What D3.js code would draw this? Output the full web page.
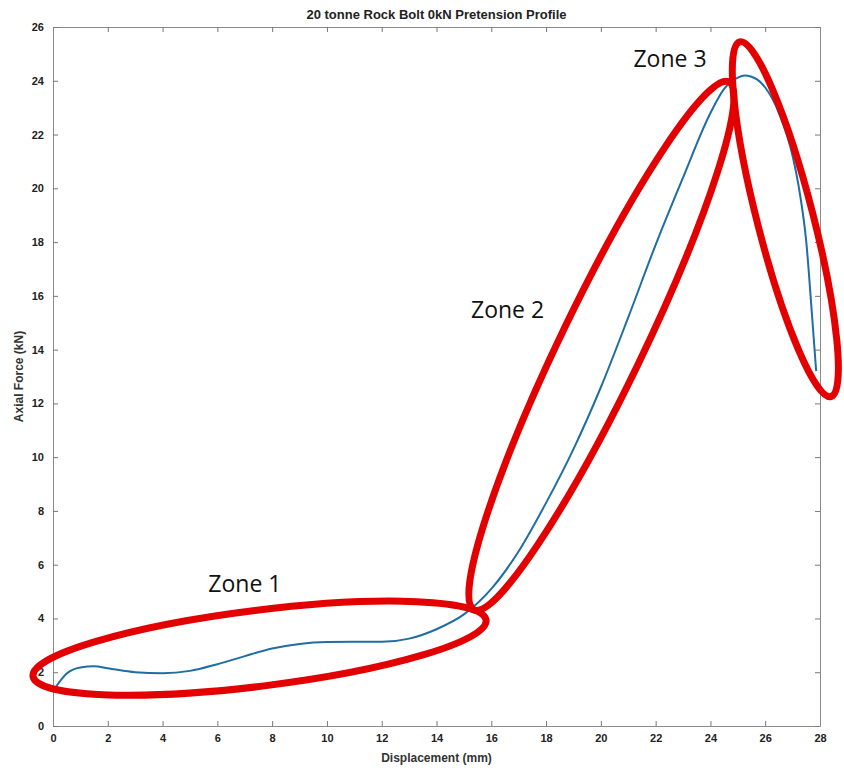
<!DOCTYPE html>
<html>
<head>
<meta charset="utf-8">
<script src="https://cdn.jsdelivr.net/npm/d3@7"></script>
<style>
  body { margin: 0; background: #fff; }
  svg { display: block; }
  .tick text { font-family: "Liberation Sans", Arial, sans-serif; font-size: 11px; font-weight: bold; fill: #222; }
</style>
</head>
<body>
<div id="chart"></div>
<script>
// displacement (mm) and axial force (kN)
var displacement = [0.07, 0.5, 1, 1.5, 2, 3, 4, 5, 6, 7, 8, 9, 10, 11, 12, 13, 14, 15, 16, 17, 18, 19, 20, 21, 22, 23, 24, 24.5, 25, 25.25, 25.7, 26, 26.5, 27, 27.25, 27.5, 27.7, 27.86];
var axialForce = [1.4, 1.95, 2.18, 2.22, 2.15, 2.0, 1.96, 2.05, 2.3, 2.6, 2.88, 3.05, 3.12, 3.13, 3.13, 3.25, 3.6, 4.15, 5.1, 6.5, 8.3, 10.3, 12.6, 15.2, 17.9, 20.4, 22.8, 23.7, 24.12, 24.2, 24.05, 23.75, 22.8, 21.2, 19.9, 18.0, 15.4, 13.2];

var xTicks = d3.range(0, 29, 2);
var yTicks = d3.range(0, 27, 2);

// zone annotations: ends of each ellipse's long axis, in data units
var zoneNames = ['Zone 1', 'Zone 2', 'Zone 3'];
var zoneEnds = [
  [[-0.73, 1.85], [15.81, 3.94]],
  [[15.37, 4.32], [24.67, 23.96]],
  [[25.07, 25.45], [28.4, 12.25]]
];
var zoneHalfWidth = [38, 41, 28];
var zoneLabelAt = [[5.67, 4.98], [15.26, 15.18], [21.19, 24.52]];

var W = 844, H = 772;
var margin = { top: 27, right: 24, bottom: 46, left: 53 };

var svg = d3.select('#chart').append('svg')
  .attr('width', W)
  .attr('height', H);

var x = d3.scaleLinear().domain([0, 28]).range([margin.left, W - margin.right]);
var y = d3.scaleLinear().domain([0, 26]).range([H - margin.bottom, margin.top]);

// box + ticks, MATLAB style
function styleAxis(g) {
  g.select('.domain').attr('stroke', '#8a8a8a').attr('stroke-width', 1);
  g.selectAll('.tick line').attr('stroke', '#777');
}
svg.append('g')
  .attr('transform', 'translate(0,' + y(0) + ')')
  .call(d3.axisBottom(x).tickValues(xTicks).tickSizeInner(-5).tickSizeOuter(0).tickPadding(8))
  .call(styleAxis);
svg.append('g')
  .attr('transform', 'translate(0,' + y(26) + ')')
  .call(d3.axisTop(x).tickValues(xTicks).tickSizeInner(-5).tickSizeOuter(0).tickFormat(''))
  .call(styleAxis);
svg.append('g')
  .attr('transform', 'translate(' + x(0) + ',0)')
  .call(d3.axisLeft(y).tickValues(yTicks).tickSizeInner(-5).tickSizeOuter(0).tickPadding(9))
  .call(styleAxis);
svg.append('g')
  .attr('transform', 'translate(' + x(28) + ',0)')
  .call(d3.axisRight(y).tickValues(yTicks).tickSizeInner(-5).tickSizeOuter(0).tickFormat(''))
  .call(styleAxis);

// titles
svg.append('text')
  .attr('x', (x(0) + x(28)) / 2).attr('y', 19)
  .attr('text-anchor', 'middle')
  .style('font-family', '"Liberation Sans", Arial, sans-serif')
  .style('font-size', '13px').style('font-weight', 'bold').style('fill', '#222')
  .text('20 tonne Rock Bolt 0kN Pretension Profile');
svg.append('text')
  .attr('x', (x(0) + x(28)) / 2).attr('y', 762)
  .attr('text-anchor', 'middle')
  .style('font-family', '"Liberation Sans", Arial, sans-serif')
  .style('font-size', '12px').style('font-weight', 'bold').style('fill', '#333')
  .text('Displacement (mm)');
svg.append('text')
  .attr('transform', 'translate(23,' + ((y(0) + y(26)) / 2) + ') rotate(-90)')
  .attr('text-anchor', 'middle')
  .style('font-family', '"Liberation Sans", Arial, sans-serif')
  .style('font-size', '12px').style('font-weight', 'bold').style('fill', '#333')
  .text('Axial Force (kN)');

// the profile
var pts = displacement.map(function (d, i) { return [d, axialForce[i]]; });
var line = d3.line()
  .x(function (d) { return x(d[0]); })
  .y(function (d) { return y(d[1]); })
  .curve(d3.curveMonotoneX);
svg.append('path')
  .datum(pts)
  .attr('d', line)
  .attr('fill', 'none')
  .attr('stroke', '#1f6ea3')
  .attr('stroke-width', 2);

// red zone ellipses
zoneEnds.forEach(function (ends, i) {
  var x1 = x(ends[0][0]), y1 = y(ends[0][1]);
  var x2 = x(ends[1][0]), y2 = y(ends[1][1]);
  var cx = (x1 + x2) / 2, cy = (y1 + y2) / 2;
  var rx = Math.hypot(x2 - x1, y2 - y1) / 2;
  var ang = Math.atan2(y2 - y1, x2 - x1) * 180 / Math.PI;
  svg.append('ellipse')
    .attr('cx', cx).attr('cy', cy)
    .attr('rx', rx).attr('ry', zoneHalfWidth[i])
    .attr('transform', 'rotate(' + ang + ',' + cx + ',' + cy + ')')
    .attr('fill', 'none')
    .attr('stroke', '#e30000')
    .attr('stroke-width', 7);
});

svg.selectAll('.zone-label')
  .data(zoneNames)
  .enter().append('text')
  .attr('class', 'zone-label')
  .attr('x', function (d, i) { return x(zoneLabelAt[i][0]); })
  .attr('y', function (d, i) { return y(zoneLabelAt[i][1]); })
  .style('font-family', '"Open Sans", sans-serif')
  .style('font-size', '23px')
  .style('fill', '#111')
  .text(function (d) { return d; });
</script>
</body>
</html>
